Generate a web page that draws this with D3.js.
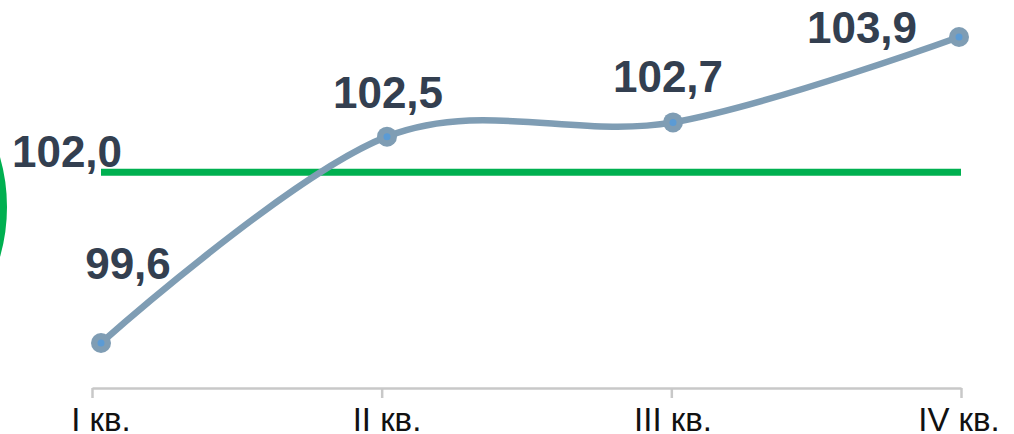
<!DOCTYPE html>
<html>
<head>
<meta charset="utf-8">
<script src="https://cdn.jsdelivr.net/npm/d3@7"></script>
<style>
  html, body { margin: 0; padding: 0; background: #fff; }
  svg { display: block; font-family: "Liberation Sans", Arial, sans-serif; }
</style>
</head>
<body>
<svg id="chart" width="1014" height="434"></svg>
<script>
// Quarterly index values
const quarters = ["I кв.", "II кв.", "III кв.", "IV кв."];
const values = [99.6, 102.5, 102.7, 103.9];
const valueLabels = ["99,6", "102,5", "102,7", "103,9"];
// Reference level
const targetValue = 102.0;
const targetLabel = "102,0";

// Label placement relative to each point (layout only)
const labelOffsets = [[27, -64], [1, -29], [-5, -30], [-97, 6]];

const svg = d3.select("#chart");

const x = d3.scalePoint().domain(quarters).range([101, 959]);
const xAxisScale = d3.scalePoint().domain(quarters).range([92, 961]);
const y = d3.scaleLinear().domain([99.6, 103.9]).range([343, 37]);

// Decorative arc at the left edge
svg.append("circle")
  .attr("cx", -175).attr("cy", 207).attr("r", 178)
  .attr("fill", "none").attr("stroke", "#00b050").attr("stroke-width", 8);

// Category axis
const axisY = 388;
const axis = svg.append("g")
  .attr("transform", `translate(0,${axisY})`)
  .call(d3.axisBottom(xAxisScale).tickSize(10).tickSizeOuter(0).tickFormat(""));
axis.select(".domain").attr("stroke", "#c8c8c8").attr("stroke-width", 2.5);
axis.selectAll(".tick line").attr("stroke", "#c8c8c8").attr("stroke-width", 2.5);

svg.append("g").selectAll("text")
  .data(quarters)
  .join("text")
  .attr("x", d => x(d))
  .attr("y", 431)
  .attr("text-anchor", "middle")
  .attr("font-size", 33)
  .attr("fill", "#111")
  .text(d => d);

// Reference line
svg.append("line")
  .attr("x1", x(quarters[0])).attr("x2", xAxisScale(quarters[3]))
  .attr("y1", y(targetValue)).attr("y2", y(targetValue))
  .attr("stroke", "#00b050").attr("stroke-width", 7);

svg.append("text")
  .attr("x", x(quarters[0]) - 34)
  .attr("y", y(targetValue) - 5)
  .attr("text-anchor", "middle")
  .attr("font-size", 44).attr("font-weight", "bold")
  .attr("fill", "#333f50")
  .text(targetLabel);

// Smoothed series line
const line = d3.line()
  .x((d, i) => x(quarters[i]))
  .y(d => y(d))
  .curve(d3.curveCardinal.tension(0));

svg.append("path")
  .datum(values)
  .attr("d", line)
  .attr("fill", "none")
  .attr("stroke", "#7f9db4")
  .attr("stroke-width", 6.5)
  .attr("stroke-linecap", "round");

// Markers
const pts = svg.append("g").selectAll("g")
  .data(values)
  .join("g")
  .attr("transform", (d, i) => `translate(${x(quarters[i])},${y(d)})`);
pts.append("circle").attr("r", 10).attr("fill", "#7f9db4");
pts.append("circle").attr("r", 3.5).attr("fill", "#5b9bd5");

// Value labels
svg.append("g").selectAll("text")
  .data(values)
  .join("text")
  .attr("x", (d, i) => x(quarters[i]) + labelOffsets[i][0])
  .attr("y", (d, i) => y(d) + labelOffsets[i][1])
  .attr("text-anchor", "middle")
  .attr("font-size", 44).attr("font-weight", "bold")
  .attr("fill", "#333f50")
  .text((d, i) => valueLabels[i]);
</script>
</body>
</html>
